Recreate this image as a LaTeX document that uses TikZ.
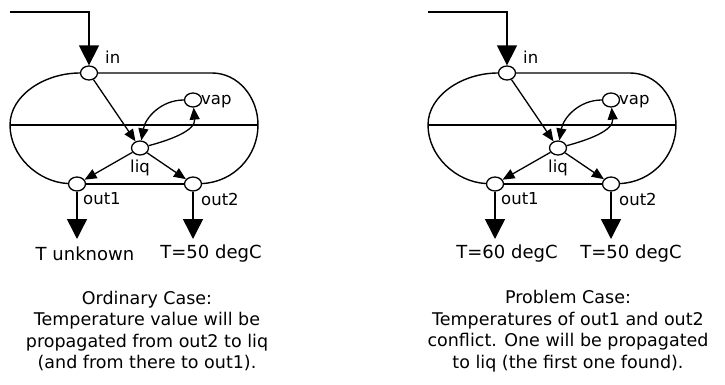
\documentclass[tikz,border=0pt]{standalone}
\usepackage{fontspec}
\setmainfont{DejaVu Sans}
\usetikzlibrary{arrows.meta,shapes.geometric}

\tikzset{
  port/.style={ellipse, draw, fill=white, line width=1.3pt, minimum width=17pt, minimum height=14pt, inner sep=0pt},
  lbl/.style={font=\fontsize{16.5}{18}\selectfont, inner sep=1pt},
  tag/.style={font=\fontsize{18}{21}\selectfont, inner sep=1pt},
  note/.style={font=\fontsize{17.5}{21.5}\selectfont, align=center, inner sep=0pt},
  wall/.style={line width=1.4pt},
  flow/.style={line width=1.3pt, -{Triangle[length=12pt,width=10pt]}},
  stream/.style={line width=1.5pt, -{Triangle[length=20pt,width=20pt]}}
}

\begin{document}
\begin{tikzpicture}[x=1pt, y=-1pt]
  \useasboundingbox (0,0) rectangle (725,385);

  % the two tanks (same drawing, shifted)
  \foreach \s/\dx in {a/0, b/418} {
    \begin{scope}[xshift=\dx pt]
      % ports
      \node[port] (in\s)   at (89,73)  {};
      \node[port] (vap\s)  at (193,100) {};
      \node[port] (liq\s)  at (140,148) {};
      \node[port] (out1\s) at (77,184) {};
      \node[port] (out2\s) at (193,184) {};

      % port names
      \node[lbl, anchor=west] (inlbl\s)   at (104,57)  {in};
      \node[lbl, anchor=west] (vaplbl\s)  at (200,102) {vap};
      \node[lbl]              (liqlbl\s)  at (140,168) {liq};
      \node[lbl, anchor=west] (out1lbl\s) at (82,199)  {out1};
      \node[lbl, anchor=west] (out2lbl\s) at (200,199) {out2};

      % vessel outline
      \draw[wall] (in\s) -- (212,73)
        .. controls (238,73) and (258,97) .. (258,125)
        .. controls (258,156) and (234,182) .. (out2\s);
      \draw[wall] (out2\s) -- (out1\s);
      \draw[wall] (out1\s)
        .. controls (38,182) and (10,156) .. (10,125)
        .. controls (10,95) and (45,73) .. (in\s);
      % liquid level
      \draw[wall] (10,125) -- (258,125);

      % feed and products
      \coordinate (src\s) at (10,12);
      \coordinate (sink1\s) at (77,239);
      \coordinate (sink2\s) at (193,239);
      \draw[stream] (src\s) -| (in\s);
      \draw[stream] (out1\s) -- (sink1\s);
      \draw[stream] (out2\s) -- (sink2\s);

      % internal links
      \draw[flow] (in\s) -- (liq\s);
      \draw[flow] (liq\s) -- (out1\s);
      \draw[flow] (liq\s) -- (out2\s);
      \draw[flow] (vap\s) to[out=180, in=80] (liq\s);
      \draw[flow] (liq\s) to[out=15, in=-85] (vap\s);
    \end{scope}
  }

  % temperatures
  \node[tag] (tempa1) at (85,254)  {T unknown};
  \node[tag] (tempa2) at (211,254) {T=50 degC};
  \node[tag] (tempb1) at (507,254) {T=60 degC};
  \node[tag] (tempb2) at (631,254) {T=50 degC};

  % captions
  \node[note] (casea) at (147,331) {Ordinary Case:\\Temperature value will be\\propagated from out2 to liq\\(and from there to out1).};
  \node[note] (caseb) at (568,331) {Problem Case:\\Temperatures of out1 and out2\\conflict. One will be propagated\\to liq (the first one found).};
\end{tikzpicture}
\end{document}
